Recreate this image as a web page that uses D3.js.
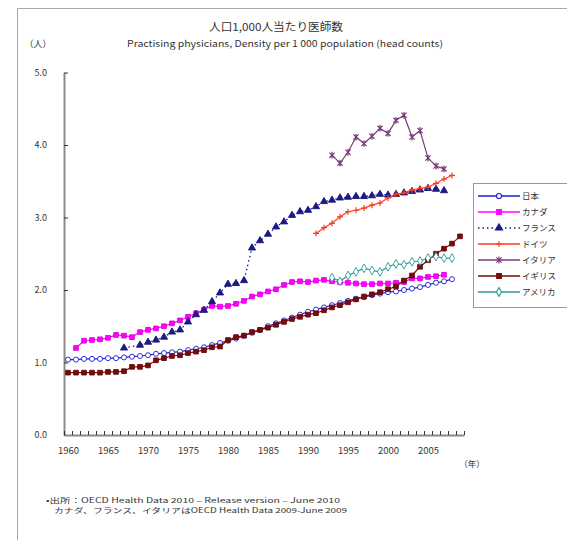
<!DOCTYPE html>
<html>
<head>
<meta charset="utf-8">
<script src="https://cdn.jsdelivr.net/npm/d3@7"></script>
<style>
  body { margin: 0; background: #fff; }
  svg { display: block; }
  text { font-family: "Noto Sans CJK JP", "Noto Sans", sans-serif; fill: #333; }
</style>
</head>
<body>
<svg id="chart" width="567" height="540"></svg>
<script>
// Physicians per 1,000 population, by country and year
const yearLabels = [1960, 1965, 1970, 1975, 1980, 1985, 1990, 1995, 2000, 2005];
const valueTicks = [0, 1, 2, 3, 4, 5];

const japanStart = 1960;
const japan = [1.04, 1.04, 1.05, 1.05, 1.05, 1.06, 1.06, 1.07, 1.08, 1.09,
               1.10, 1.12, 1.13, 1.14, 1.15, 1.17, 1.19, 1.21, 1.24, 1.27,
               1.30, 1.33, 1.37, 1.41, 1.45, 1.50, 1.54, 1.58, 1.62, 1.66,
               1.70, 1.73, 1.76, 1.79, 1.82, 1.85, 1.88, 1.90, 1.93, 1.95,
               1.97, 1.98, 2.00, 2.02, 2.04, 2.07, 2.10, 2.12, 2.15];

const canadaStart = 1961;
const canada = [1.20, 1.30, 1.31, 1.32, 1.34, 1.38, 1.37, 1.35, 1.42, 1.45,
                1.47, 1.50, 1.54, 1.58, 1.63, 1.68, 1.73, 1.78, 1.77, 1.78,
                1.81, 1.85, 1.91, 1.94, 1.98, 2.01, 2.07, 2.11, 2.12, 2.11,
                2.13, 2.14, 2.12, 2.11, 2.10, 2.09, 2.08, 2.08, 2.09, 2.09,
                2.10, 2.11, 2.16, 2.16, 2.18, 2.19, 2.21];

const franceStart = 1967;
const france = [1.20, null, 1.24, 1.28, 1.31, 1.35, 1.42, 1.45, 1.56, 1.66,
                1.72, 1.84, 1.96, 2.08, 2.09, 2.13, 2.58, 2.68, 2.77, 2.87,
                2.94, 3.03, 3.08, 3.10, 3.15, 3.22, 3.24, 3.27, 3.28, 3.29,
                3.29, 3.30, 3.32, 3.31, 3.32, 3.34, 3.36, 3.38, 3.40, 3.39,
                3.37];

const germanyStart = 1991;
const germany = [2.78, 2.86, 2.92, 3.01, 3.08, 3.10, 3.13, 3.17, 3.20, 3.27,
                 3.32, 3.34, 3.38, 3.40, 3.42, 3.47, 3.53, 3.58];

const italyStart = 1993;
const italy = [3.86, 3.75, 3.90, 4.11, 4.02, 4.12, 4.23, 4.16, 4.34, 4.41,
               4.11, 4.20, 3.82, 3.71, 3.67];

const ukStart = 1960;
const uk = [0.86, 0.86, 0.86, 0.86, 0.86, 0.87, 0.87, 0.88, 0.94, 0.94,
            0.96, 1.03, 1.06, 1.09, 1.10, 1.13, 1.15, 1.17, 1.21, 1.22,
            1.31, 1.35, 1.37, 1.42, 1.45, 1.48, 1.52, 1.56, 1.60, 1.63,
            1.66, 1.68, 1.72, 1.76, 1.79, 1.83, 1.87, 1.91, 1.94, 1.97,
            2.01, 2.05, 2.13, 2.20, 2.32, 2.41, 2.50, 2.57, 2.64, 2.74];

const usaStart = 1993;
const usa = [2.17, 2.12, 2.20, 2.25, 2.30, 2.27, 2.25, 2.32, 2.36, 2.35,
             2.39, 2.40, 2.44, 2.46, 2.44, 2.44];

const series = [
  { name: "日本",   start: japanStart,   values: japan,   color: "#1c1cd6", marker: "circle",   fill: "#fff",    dash: null },
  { name: "カナダ", start: canadaStart,  values: canada,  color: "#ff00ff", marker: "square",   fill: "#ff00ff", dash: null },
  { name: "フランス", start: franceStart, values: france, color: "#1a1a8c", marker: "triangle", fill: "#1a1a8c", dash: "1.5,3" },
  { name: "ドイツ", start: germanyStart, values: germany, color: "#ff3a20", marker: "plus",     fill: "none",    dash: null },
  { name: "イタリア", start: italyStart, values: italy,   color: "#7a3a7a", marker: "star",     fill: "none",    dash: null },
  { name: "イギリス", start: ukStart,    values: uk,      color: "#7a0a0a", marker: "square",   fill: "#7a0a0a", dash: null },
  { name: "アメリカ", start: usaStart,   values: usa,     color: "#2a9a9a", marker: "diamond",  fill: "#fff",    dash: null }
];

const svg = d3.select("#chart");

// outer frame
svg.append("path")
  .attr("d", "M17.5,540V8.5H567")
  .attr("fill", "none").attr("stroke", "#a8a8a8").attr("stroke-width", 1);

const x = d3.scaleLinear().domain([1959.5, 2009.5]).range([64, 464]);
const y = d3.scaleLinear().domain([0, 5]).range([435, 72.5]);

// titles
svg.append("text").attr("x", 276).attr("y", 31).attr("text-anchor", "middle")
  .attr("textLength", 134).attr("lengthAdjust", "spacingAndGlyphs")
  .style("font-size", "11px").text("人口1,000人当たり医師数");
svg.append("text").attr("x", 285).attr("y", 46.5).attr("text-anchor", "middle")
  .attr("textLength", 316).attr("lengthAdjust", "spacingAndGlyphs")
  .style("font-size", "9.2px").text("Practising physicians, Density per 1 000 population (head counts)");
svg.append("text").attr("x", 38).attr("y", 47).attr("text-anchor", "middle")
  .style("font-size", "9px").text("（人）");

// y axis
const yAxis = svg.append("g").attr("transform", "translate(64,0)")
  .call(d3.axisLeft(y).tickValues(valueTicks).tickFormat(d3.format(".1f"))
    .tickSizeInner(-4).tickSizeOuter(0).tickPadding(17));
yAxis.select(".domain").attr("stroke", "#8a8a8a").attr("stroke-width", 2);
yAxis.selectAll(".tick line").attr("stroke", "#333");
yAxis.selectAll("text").style("font-size", "9px").attr("fill", "#333");

// x axis: a tick at every year boundary, labels every five years
const boundaries = d3.range(x.domain()[0], x.domain()[1] + 0.5, 1);
const xAxis = svg.append("g").attr("transform", "translate(0,435)")
  .call(d3.axisBottom(x).tickValues(boundaries).tickFormat("")
    .tickSizeInner(-4).tickSizeOuter(0));
xAxis.select(".domain").attr("stroke", "#8a8a8a").attr("stroke-width", 2);
xAxis.selectAll(".tick line").attr("stroke", "#333");

const xLabels = svg.append("g").attr("transform", "translate(0,435)")
  .call(d3.axisBottom(x).tickValues(yearLabels).tickFormat(d3.format("d"))
    .tickSize(0).tickPadding(12));
xLabels.select(".domain").remove();
xLabels.selectAll("text").style("font-size", "9.5px").attr("fill", "#333");

svg.append("text").attr("x", 472).attr("y", 467).attr("text-anchor", "middle")
  .style("font-size", "8.5px").text("（年）");

// footnotes
svg.append("text").attr("x", 46).attr("y", 503)
  .attr("textLength", 294).attr("lengthAdjust", "spacingAndGlyphs")
  .style("font-size", "7px").text("•出所：OECD Health Data 2010 – Release version – June 2010");
svg.append("text").attr("x", 54).attr("y", 513)
  .attr("textLength", 293).attr("lengthAdjust", "spacingAndGlyphs")
  .style("font-size", "7px").text("カナダ、フランス、イタリアはOECD Health Data 2009-June 2009");

// marker shapes
function markerPath(kind) {
  switch (kind) {
    case "circle": return d3.symbol(d3.symbolCircle, 20)();
    case "square": return d3.symbol(d3.symbolSquare, 22)();
    case "triangle": return d3.symbol(d3.symbolTriangle, 22)();
    case "diamond": return d3.symbol(d3.symbolDiamond, 22)();
    case "plus": return "M-3,0H3M0,-3V3";
    case "star": return "M-2.6,-2.6L2.6,2.6M-2.6,2.6L2.6,-2.6M0,-3.4V3.4";
  }
}

const line = d3.line().x(d => x(d.year)).y(d => y(d.value));

series.forEach(s => {
  const pts = s.values
    .map((v, i) => ({ year: s.start + i, value: v }))
    .filter(d => d.value != null);
  const g = svg.append("g");
  g.append("path").datum(pts).attr("d", line)
    .attr("fill", "none").attr("stroke", s.color)
    .attr("stroke-width", s.dash ? 1.3 : 1.2)
    .attr("stroke-dasharray", s.dash);
  g.selectAll("path.m").data(pts).join("path").attr("class", "m")
    .attr("transform", d => `translate(${x(d.year)},${y(d.value)})`)
    .attr("d", markerPath(s.marker))
    .attr("fill", s.fill)
    .attr("stroke", s.marker === "square" || s.marker === "triangle" ? d3.color(s.color).darker(0.4) : s.color)
    .attr("stroke-width", s.marker === "plus" || s.marker === "star" ? 1.2 : 0.9);
});

// legend
const legend = svg.append("g");
legend.append("rect").attr("x", 473.5).attr("y", 183.5).attr("width", 100).attr("height", 124)
  .attr("fill", "#fff").attr("stroke", "#999");
series.forEach((s, i) => {
  const ly = 196 + i * 16;
  const row = legend.append("g").attr("transform", `translate(0,${ly})`);
  row.append("line").attr("x1", 478).attr("x2", 520).attr("y1", 0).attr("y2", 0)
    .attr("stroke", s.color).attr("stroke-width", 1.4).attr("stroke-dasharray", s.dash);
  row.append("path").attr("transform", "translate(499,0)").attr("d", markerPath(s.marker))
    .attr("fill", s.fill).attr("stroke", s.color).attr("stroke-width", 1.1);
  row.append("text").attr("x", 522).attr("y", 0).attr("dy", "0.35em")
    .style("font-size", "8.5px").text(s.name);
});
</script>
</body>
</html>
